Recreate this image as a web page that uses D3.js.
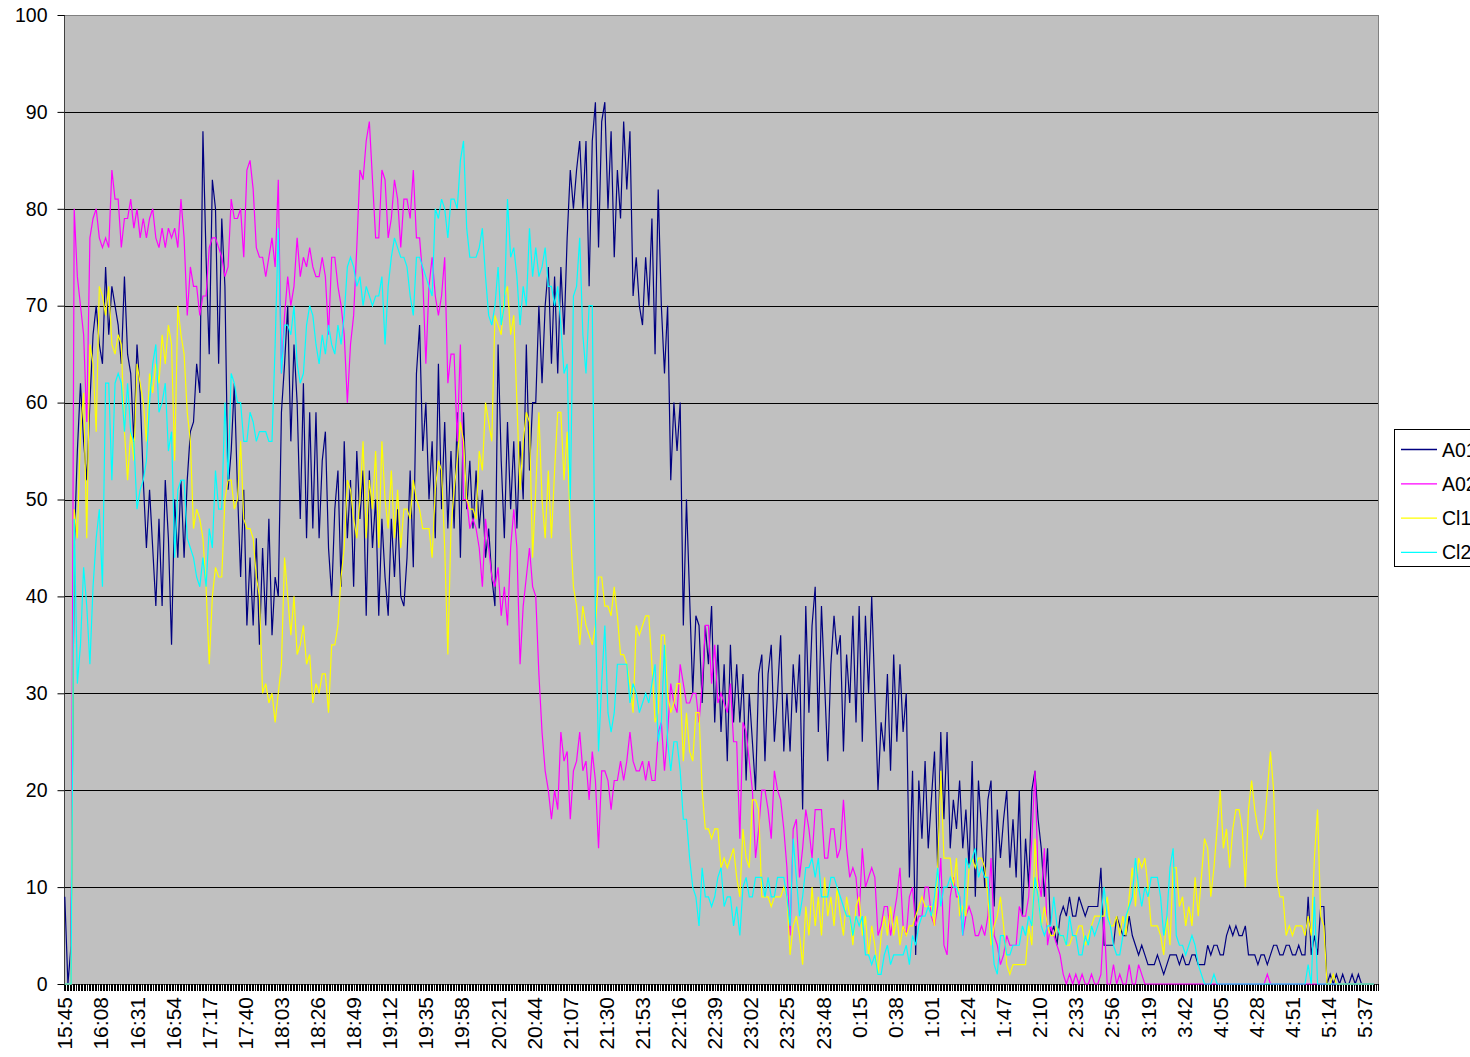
<!DOCTYPE html>
<html>
<head>
<meta charset="utf-8">
<script src="https://cdn.jsdelivr.net/npm/d3@7/dist/d3.min.js"></script>
<style>
  body { margin: 0; background: #ffffff; }
  svg { display: block; }
  text { font-family: "Liberation Sans", Arial, sans-serif; fill: #000; }
</style>
</head>
<body>
<svg id="chart" width="1470" height="1057"></svg>
<script>
// ---------------- DATA ----------------
// One category per minute on the x axis; the series values below are read
// every 2nd category (index k -> category 2k).
const categoryCount = 837;
const sampleStep = 2;
const tickEvery = 23;
const tickLabels = ["15:45","16:08","16:31","16:54","17:17","17:40","18:03","18:26","18:49","19:12",
  "19:35","19:58","20:21","20:44","21:07","21:30","21:53","22:16","22:39","23:02","23:25","23:48",
  "0:15","0:38","1:01","1:24","1:47","2:10","2:33","2:56","3:19","3:42","4:05","4:28","4:51","5:14","5:37"];
const yTicks = [0,10,20,30,40,50,60,70,80,90,100];
const seriesNames = ["A01","A02","Cl1","Cl2"];
const seriesColors = ["#000080","#FF00FF","#FFFF00","#00FFFF"];

const a01 = [
9,0,4,45,55,62,56,52,60,67,
70,66,64,74,67,72,70,68,64,73,
65,63,56,66,61,52,45,51,45,39,
48,39,52,46,35,50,44,52,44,52,
57,58,64,61,88,75,65,83,80,64,
79,72,51,55,62,51,42,51,37,44,
37,46,35,45,37,48,36,42,40,59,
64,70,56,66,60,48,62,46,59,47,
59,46,54,57,45,40,49,53,41,56,
46,52,41,55,48,53,38,53,45,50,
38,48,42,38,48,42,49,40,39,44,
53,43,63,68,55,60,50,56,46,64,
49,58,47,55,47,59,44,59,49,54,
47,53,47,51,44,47,42,39,66,54,
46,58,49,56,47,56,50,66,53,60,
60,70,62,70,74,64,73,63,74,67,
77,84,80,84,87,80,87,72,87,91,
76,89,91,80,88,75,84,79,89,82,
88,71,75,70,68,75,70,79,65,82,
70,63,70,52,60,55,60,37,50,40,
30,38,37,29,37,33,39,27,35,26,
33,23,35,27,33,27,32,21,30,25,
20,32,34,23,32,35,25,30,36,24,
30,24,33,28,34,18,39,28,37,41,
26,39,31,23,33,38,34,36,24,34,
29,38,27,39,25,38,30,40,30,20,
27,24,32,22,34,25,33,26,30,11,
22,3,21,15,23,14,19,24,12,26,
17,26,14,19,16,21,14,18,12,23,
9,21,16,10,19,21,8,18,13,17,
20,12,17,11,20,7,15,10,20,22,
17,14,9,14,5,6,4,7,8,7,
9,7,7,9,8,7,8,8,8,8,
12,4,4,4,4,7,6,5,5,7,
5,4,3,4,3,2,2,2,3,2,
1,2,3,3,3,2,3,2,2,3,
3,2,2,2,4,3,4,4,3,3,
5,6,5,6,5,5,6,3,3,3,
2,3,3,2,3,4,4,3,3,4,
4,3,3,4,3,3,9,3,5,3,
8,8,0,1,0,1,0,1,0,0,
1,0,1,0,0,0,0,0
];

const a02 = [
0,0,0,80,73,70,67,58,77,79,
80,77,76,77,76,84,81,81,76,79,
79,81,78,80,77,79,77,79,80,77,
76,78,76,78,77,78,76,81,77,69,
74,72,72,69,71,71,76,77,77,76,
75,73,74,81,79,79,80,75,84,85,
82,76,75,75,73,75,77,74,83,63,
69,73,70,72,77,73,75,74,76,74,
73,73,75,73,67,75,75,72,70,67,
60,66,69,76,84,83,87,89,83,77,
77,84,83,77,79,83,81,76,81,81,
79,84,77,77,73,64,72,75,71,69,
71,75,62,65,65,56,66,50,50,47,
48,47,45,41,48,45,42,41,43,38,
41,37,45,49,45,33,39,42,45,41,
40,32,26,22,20,17,20,18,26,23,
24,17,22,23,26,22,23,19,24,21,
14,22,22,21,18,21,21,23,21,23,
26,23,22,22,23,21,23,21,21,26,
27,22,26,31,29,28,33,31,29,29,
30,30,27,31,37,37,31,35,29,30,
29,28,31,25,25,15,27,26,23,20,
13,16,20,20,18,15,22,20,19,16,
12,5,16,17,11,14,18,16,13,18,
18,18,13,13,16,16,13,14,19,14,
11,12,11,7,14,10,11,12,11,5,
6,8,8,5,7,9,12,6,5,9,
10,6,7,7,10,10,7,6,8,13,
4,3,9,11,9,9,5,7,8,7,
5,5,6,5,7,13,5,4,2,3,
5,4,4,4,8,7,7,9,15,22,
11,9,14,4,6,5,4,3,1,0,
1,0,1,0,1,0,0,1,0,0,
1,7,0,0,2,0,1,0,0,2,
0,0,2,1,0,0,0,0,0,0,
0,0,0,0,0,0,0,0,0,0,
0,0,0,0,0,0,0,0,0,0,
0,0,0,0,0,0,0,0,0,0,
0,0,0,1,0,0,0,0,0,0,
0,0,0,0,0,0,0,0,0,0,
0,0,0,0,0,0,0,0,0,0,
0,0,0,0,0,0,0,0
];

const cl1 = [
0,0,0,49,46,57,61,46,66,64,
57,72,71,69,72,66,65,67,66,57,
52,57,54,64,62,60,56,63,61,64,
62,67,64,68,66,54,70,67,65,59,
56,47,49,48,46,41,33,40,43,42,
42,50,52,52,49,50,56,48,47,47,
46,42,40,30,31,29,30,27,30,33,
44,40,36,40,34,35,37,33,34,29,
31,30,32,32,28,35,35,37,42,45,
52,51,48,46,50,56,46,52,49,55,
45,56,50,47,53,46,51,45,49,49,
48,52,50,49,47,47,47,44,51,54,
53,45,34,47,51,54,58,56,50,49,
49,48,55,53,60,58,56,69,68,67,
71,72,67,69,60,51,56,59,58,44,
51,59,50,46,53,46,53,59,59,52,
57,47,41,39,35,39,37,36,35,37,
42,42,39,39,38,41,38,34,34,33,
31,28,37,36,37,38,38,33,27,28,
36,36,30,28,29,31,31,23,28,24,
23,28,28,20,16,16,15,16,16,12,
13,12,13,14,11,9,16,13,12,19,
19,18,9,9,9,8,9,9,9,10,
9,3,6,7,5,2,8,5,10,6,
9,5,11,7,9,6,10,7,5,9,
7,4,8,9,5,7,3,6,4,1,
5,7,5,8,5,7,4,6,5,6,
6,7,8,9,8,8,8,6,12,22,
13,13,13,10,13,7,8,7,12,13,
12,13,13,12,9,4,6,7,9,6,
2,1,2,2,2,2,2,6,4,15,
9,6,8,6,5,5,6,5,5,4,
4,5,5,6,6,4,5,6,7,7,
7,7,9,6,6,7,5,7,5,9,
12,8,13,12,13,10,6,6,6,5,
3,7,4,12,12,8,9,6,8,6,
11,7,11,15,14,9,12,16,20,14,
16,12,16,18,18,16,10,18,21,18,
16,15,16,20,24,20,11,9,9,5,
6,5,6,6,6,5,7,5,13,18,
7,6,0,0,1,0,0,0,0,0,
0,0,0,0,0,0,0,0
];

const cl2 = [
0,0,0,48,31,35,43,39,33,41,
46,49,41,62,62,52,62,63,62,57,
62,57,56,49,51,52,54,60,64,66,
59,60,62,55,57,44,51,52,52,46,
45,44,42,41,44,41,47,45,53,49,
49,60,52,63,62,60,60,56,56,59,
58,56,57,57,57,56,56,66,78,63,
68,68,67,70,64,62,63,68,70,69,
66,64,67,65,68,66,65,68,66,69,
74,75,74,72,73,70,72,71,70,71,
71,73,66,72,75,77,76,75,75,74,
71,69,75,75,74,73,72,71,80,79,
81,80,77,81,81,80,85,87,78,75,
75,75,76,78,73,69,68,70,74,68,
70,81,75,76,73,68,72,70,78,73,
76,73,74,76,72,72,70,72,68,63,
64,50,71,72,77,67,63,70,70,38,
24,31,37,28,26,28,33,33,33,33,
29,31,30,28,29,30,29,31,33,25,
27,35,25,22,25,25,22,17,17,13,
10,9,6,12,9,9,8,9,11,12,
8,9,9,6,8,5,10,11,9,9,
11,11,11,9,11,9,9,11,11,11,
9,6,15,11,7,9,12,12,13,11,
13,9,9,9,11,11,10,9,8,7,
7,5,7,6,7,3,3,2,3,1,
1,3,4,2,3,3,3,3,4,2,
5,4,6,7,7,8,7,9,12,8,
10,10,11,10,10,9,5,13,12,13,
14,11,12,11,11,6,2,1,5,5,
3,3,4,4,4,6,5,7,6,11,
9,6,5,6,6,9,6,5,5,4,
7,5,5,3,3,5,4,6,5,6,
7,10,7,6,4,3,3,5,7,8,
9,13,10,8,10,9,11,11,11,9,
5,7,12,14,5,4,4,3,4,5,
4,2,1,0,0,0,1,0,0,0,
0,0,0,0,0,0,0,0,0,0,
0,0,0,0,0,0,0,0,0,0,
0,0,0,0,0,0,2,0,9,0,
0,0,0,0,0,0,0,0,0,0,
0,0,0,0,0,0,0,0
];

const seriesValues = [a01, a02, cl1, cl2];

// ---------------- CHART ----------------
const svg = d3.select("#chart");
const plot = { left: 64, right: 1378, top: 15, bottom: 984 };

const x = d3.scaleLinear().domain([0, categoryCount]).range([plot.left, plot.right]);
const y = d3.scaleLinear().domain([0, 100]).range([plot.bottom, plot.top]);

// plot background
svg.append("rect")
  .attr("x", plot.left).attr("y", plot.top)
  .attr("width", plot.right - plot.left).attr("height", plot.bottom - plot.top)
  .attr("fill", "#C0C0C0").attr("stroke", "#808080").attr("stroke-width", 1)
  .attr("shape-rendering", "crispEdges");

// gridlines
svg.append("g").selectAll("line")
  .data(yTicks.filter(t => t > 0 && t < 100))
  .join("line")
  .attr("x1", plot.left).attr("x2", plot.right)
  .attr("y1", d => Math.round(y(d)) + 0.5).attr("y2", d => Math.round(y(d)) + 0.5)
  .attr("stroke", "#000").attr("stroke-width", 1);

// y axis
const yAxis = d3.axisLeft(y).tickValues(yTicks).tickSize(7).tickPadding(10).tickFormat(d3.format("d"));
const gy = svg.append("g").attr("transform", `translate(${plot.left + 0.5},0)`).call(yAxis);
gy.select(".domain").attr("stroke", "#404040").attr("d", `M0,${plot.top}V${plot.bottom}`);
gy.selectAll(".tick line").attr("stroke", "#000");
gy.selectAll(".tick text").style("font-size", "19.5px").attr("fill", "#000")
  .style("font-family", "'Liberation Sans', Arial, sans-serif");

// x axis baseline
svg.append("line")
  .attr("x1", plot.left).attr("x2", plot.right)
  .attr("y1", plot.bottom + 0.5).attr("y2", plot.bottom + 0.5)
  .attr("stroke", "#404040");

// dense category tick marks
svg.append("g").selectAll("line")
  .data(d3.range(categoryCount + 1))
  .join("line")
  .attr("x1", d => x(d)).attr("x2", d => x(d))
  .attr("y1", plot.bottom).attr("y2", plot.bottom + 7)
  .attr("stroke", "#000").attr("stroke-width", 1)
  .attr("shape-rendering", "crispEdges");

// x labels (rotated)
svg.append("g").selectAll("text")
  .data(tickLabels)
  .join("text")
  .attr("transform", (d, j) => `translate(${x(j * tickEvery + 0.5)},${plot.bottom + 13}) rotate(-90)`)
  .attr("text-anchor", "end")
  .attr("dominant-baseline", "central")
  .style("font-size", "21px")
  .text(d => d);

// series lines
const line = d3.line()
  .x((d, k) => x(k * sampleStep + 0.5))
  .y(d => y(d));

svg.append("g").selectAll("path")
  .data(seriesValues)
  .join("path")
  .attr("d", d => line(d))
  .attr("fill", "none")
  .attr("stroke", (d, i) => seriesColors[i])
  .attr("stroke-width", 1.2)
  .attr("stroke-linejoin", "miter");

// legend
const legend = svg.append("g");
legend.append("rect")
  .attr("x", 1394.5).attr("y", 429.5).attr("width", 200).attr("height", 137)
  .attr("fill", "#fff").attr("stroke", "#000");
const items = legend.selectAll("g.item").data(seriesNames).join("g").attr("class", "item")
  .attr("transform", (d, i) => `translate(0,${449.5 + i * 34.3})`);
items.append("line").attr("x1", 1401).attr("x2", 1437).attr("y1", 0).attr("y2", 0)
  .attr("stroke", (d, i) => seriesColors[i]).attr("stroke-width", 1.3);
items.append("text").attr("x", 1442).attr("y", 0).attr("dominant-baseline", "central")
  .style("font-size", "19.5px").text(d => d);
</script>
</body>
</html>
